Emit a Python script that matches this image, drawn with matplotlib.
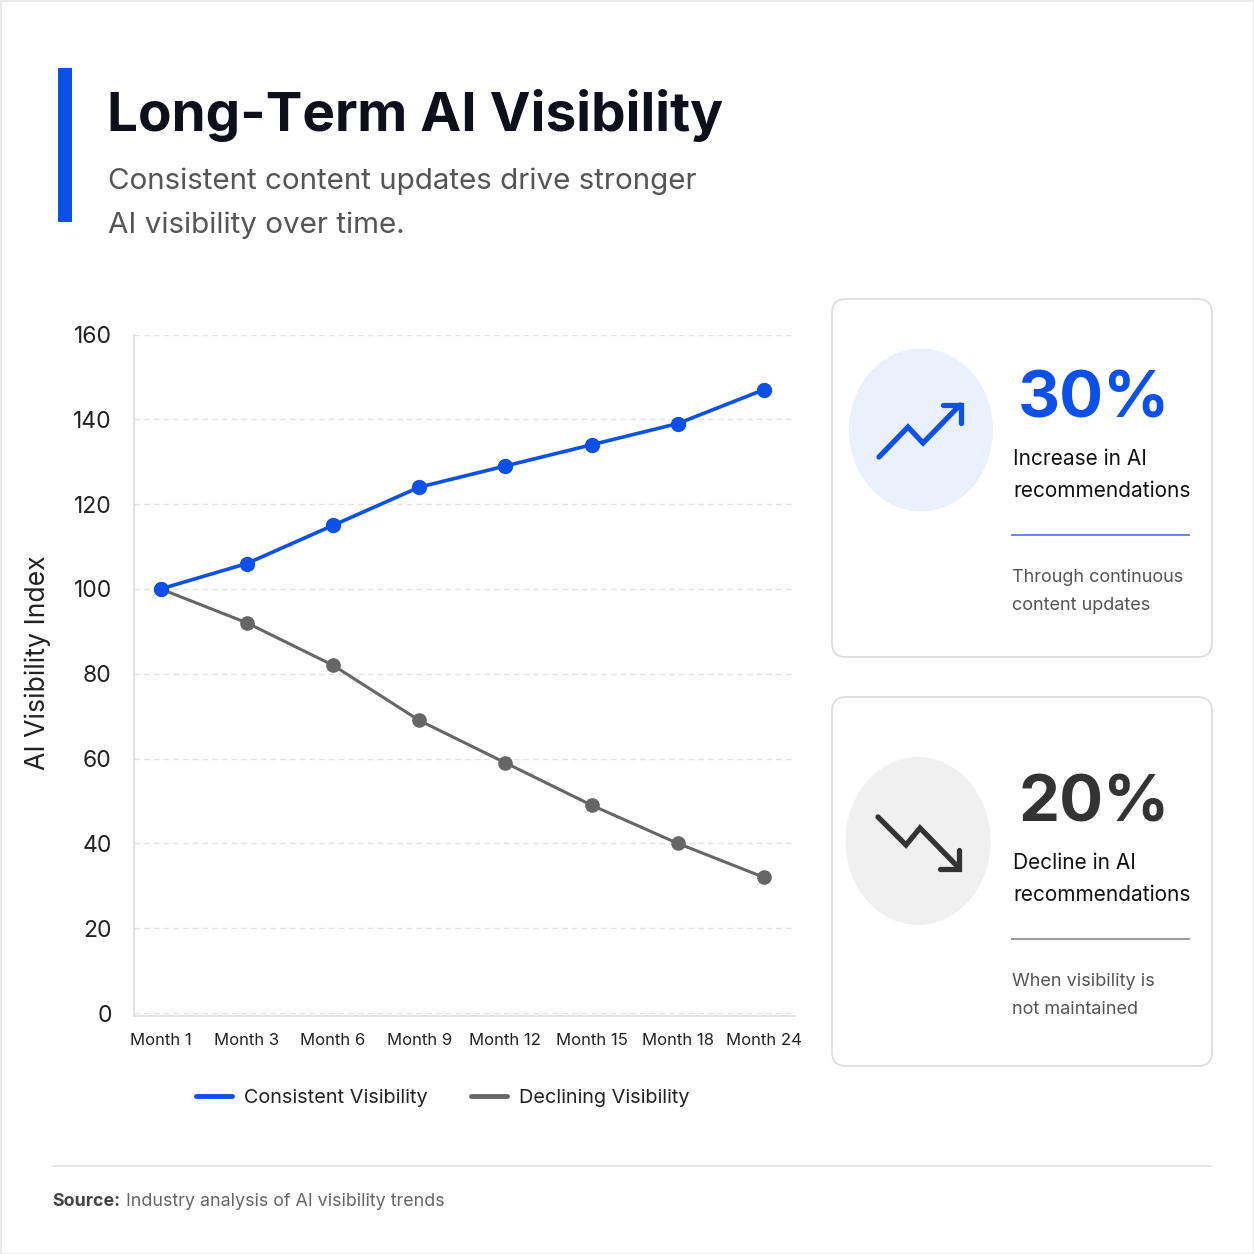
import matplotlib
matplotlib.use("Agg")
import matplotlib.pyplot as plt
from matplotlib.patches import FancyBboxPatch, Ellipse, Rectangle
from matplotlib.lines import Line2D

plt.rcParams['font.family'] = ['Inter', 'DejaVu Sans']

months = ["Month 1", "Month 3", "Month 6", "Month 9", "Month 12", "Month 15", "Month 18", "Month 24"]
consistent = [100, 106, 115, 124, 129, 134, 139, 147]
declining = [100, 92, 82, 69, 59, 49, 40, 32]
y_ticks = [0, 20, 40, 60, 80, 100, 120, 140, 160]

BLUE = "#0B50E8"
GRAY = "#666666"
W = 1254

fig = plt.figure(figsize=(12.54, 12.54), dpi=100)
fig.patch.set_facecolor("white")

# background layer in pixel coordinates for title, cards and footer
bg = fig.add_axes([0, 0, 1, 1], zorder=0)
bg.set_xlim(0, W)
bg.set_ylim(W, 0)
bg.axis("off")

bg.add_patch(Rectangle((0.5, 0.5), W - 1, W - 1, fill=False, ec="#e6e6e6", lw=1.2))
bg.add_patch(Rectangle((58, 68), 14, 154, color=BLUE, lw=0))

bg.text(107, 131, "Long-Term AI Visibility", fontsize=39.5, fontweight="bold",
        color="#0d0f1a", va="baseline", ha="left")
bg.text(108, 189, "Consistent content updates drive stronger", fontsize=21.3,
        color="#555555", va="baseline", ha="left")
bg.text(108, 233, "AI visibility over time.", fontsize=21.3,
        color="#555555", va="baseline", ha="left")

# cards
cards = [
    dict(y0=299, y1=657, off=0, circ=(921, 430, 144, 163), cfill="#EAF1FD", big="30%",
         bigc=BLUE, l1="Increase in AI", sep="#5B8DEF", sub=("Through continuous", "content updates"),
         icon=[(879, 457), (908, 427), (923, 443), (960, 405)],
         head=[(943, 405), (961, 405), (961, 423)], ic=BLUE),
    dict(y0=697, y1=1066, off=6, circ=(918, 841, 145, 168), cfill="#F0F0F0", big="20%",
         bigc="#333333", l1="Decline in AI", sep="#999999", sub=("When visibility is", "not maintained"),
         icon=[(878, 817), (906, 845), (920, 828), (958, 867)],
         head=[(940, 869), (959, 869), (959, 850)], ic="#333333"),
]
for c in cards:
    bg.add_patch(FancyBboxPatch((832, c["y0"]), 380, c["y1"] - c["y0"],
                                boxstyle="round,pad=0,rounding_size=14",
                                fc="white", ec="#dedede", lw=1.3))
    cx, cy, cw, ch = c["circ"]
    bg.add_patch(Ellipse((cx, cy), cw, ch, fc=c["cfill"], ec="none"))
    xs, ys = zip(*c["icon"])
    bg.plot(xs, ys, color=c["ic"], lw=3.8, solid_capstyle="round", solid_joinstyle="miter")
    hx, hy = zip(*c["head"])
    bg.plot(hx, hy, color=c["ic"], lw=3.8, solid_capstyle="round", solid_joinstyle="miter")
    top = c["y0"] + c["off"]
    bg.text(1018, top + 118, c["big"], fontsize=47, fontweight="bold", color=c["bigc"],
            va="baseline", ha="left")
    bg.text(1013, top + 166, c["l1"], fontsize=15, color="#111111", va="baseline")
    bg.text(1013, top + 198, "recommendations", fontsize=15, color="#111111", va="baseline")
    bg.plot([1012, 1189], [top + 236, top + 236], color=c["sep"], lw=1.4)
    bg.text(1012, top + 283, c["sub"][0], fontsize=13, color="#555555", va="baseline")
    bg.text(1012, top + 311, c["sub"][1], fontsize=13, color="#555555", va="baseline")

# footer
bg.plot([52, 1212], [1166, 1166], color="#e3e3e3", lw=1.2)
bg.text(52, 1206, "Source:", fontsize=12.8, fontweight="bold", color="#444444", va="baseline")
bg.text(126, 1206, "Industry analysis of AI visibility trends", fontsize=12.9,
        color="#666666", va="baseline")

# line chart
ax = fig.add_axes([134 / W, 1 - 1016 / W, (795 - 134) / W, (1016 - 334.5) / W], zorder=1)
ax.set_facecolor("none")
x = range(len(months))
ax.plot(x, declining, color=GRAY, lw=2.2, marker="o", ms=9.5, zorder=3)
ax.plot(x, consistent, color=BLUE, lw=2.6, marker="o", ms=10, zorder=4)
ax.set_xlim(-0.31, 7.36)
ax.set_ylim(-0.7, 160)
ax.set_yticks(y_ticks)
ax.set_xticks(list(x))
ax.set_xticklabels(months)
ax.grid(axis="y", color="#e2e2e2", ls=(0, (4, 3)), lw=1)
ax.set_axisbelow(True)
for s in ["top", "right"]:
    ax.spines[s].set_visible(False)
for s in ["left", "bottom"]:
    ax.spines[s].set_color("#dddddd")
    ax.spines[s].set_linewidth(1.2)
ax.tick_params(axis="y", length=0, pad=16, labelsize=16.5, labelcolor="#222222")
ax.tick_params(axis="x", length=0, pad=12, labelsize=12, labelcolor="#222222")

fig.text(38 / W, 1 - 663 / W, "AI Visibility Index", rotation=90, fontsize=19.2,
         color="#222222", ha="center", va="center")

handles = [Line2D([], [], color=BLUE, lw=3.5, solid_capstyle="round"),
           Line2D([], [], color=GRAY, lw=3.5, solid_capstyle="round")]
fig.legend(handles, ["Consistent Visibility", "Declining Visibility"],
           loc="center", bbox_to_anchor=(443 / W, 1 - 1098 / W), ncol=2, frameon=False,
           fontsize=14.3, handlelength=1.8, handletextpad=0.6, columnspacing=2.2,
           labelcolor="#222222")

fig.savefig("out.png", dpi=100, facecolor="white")
